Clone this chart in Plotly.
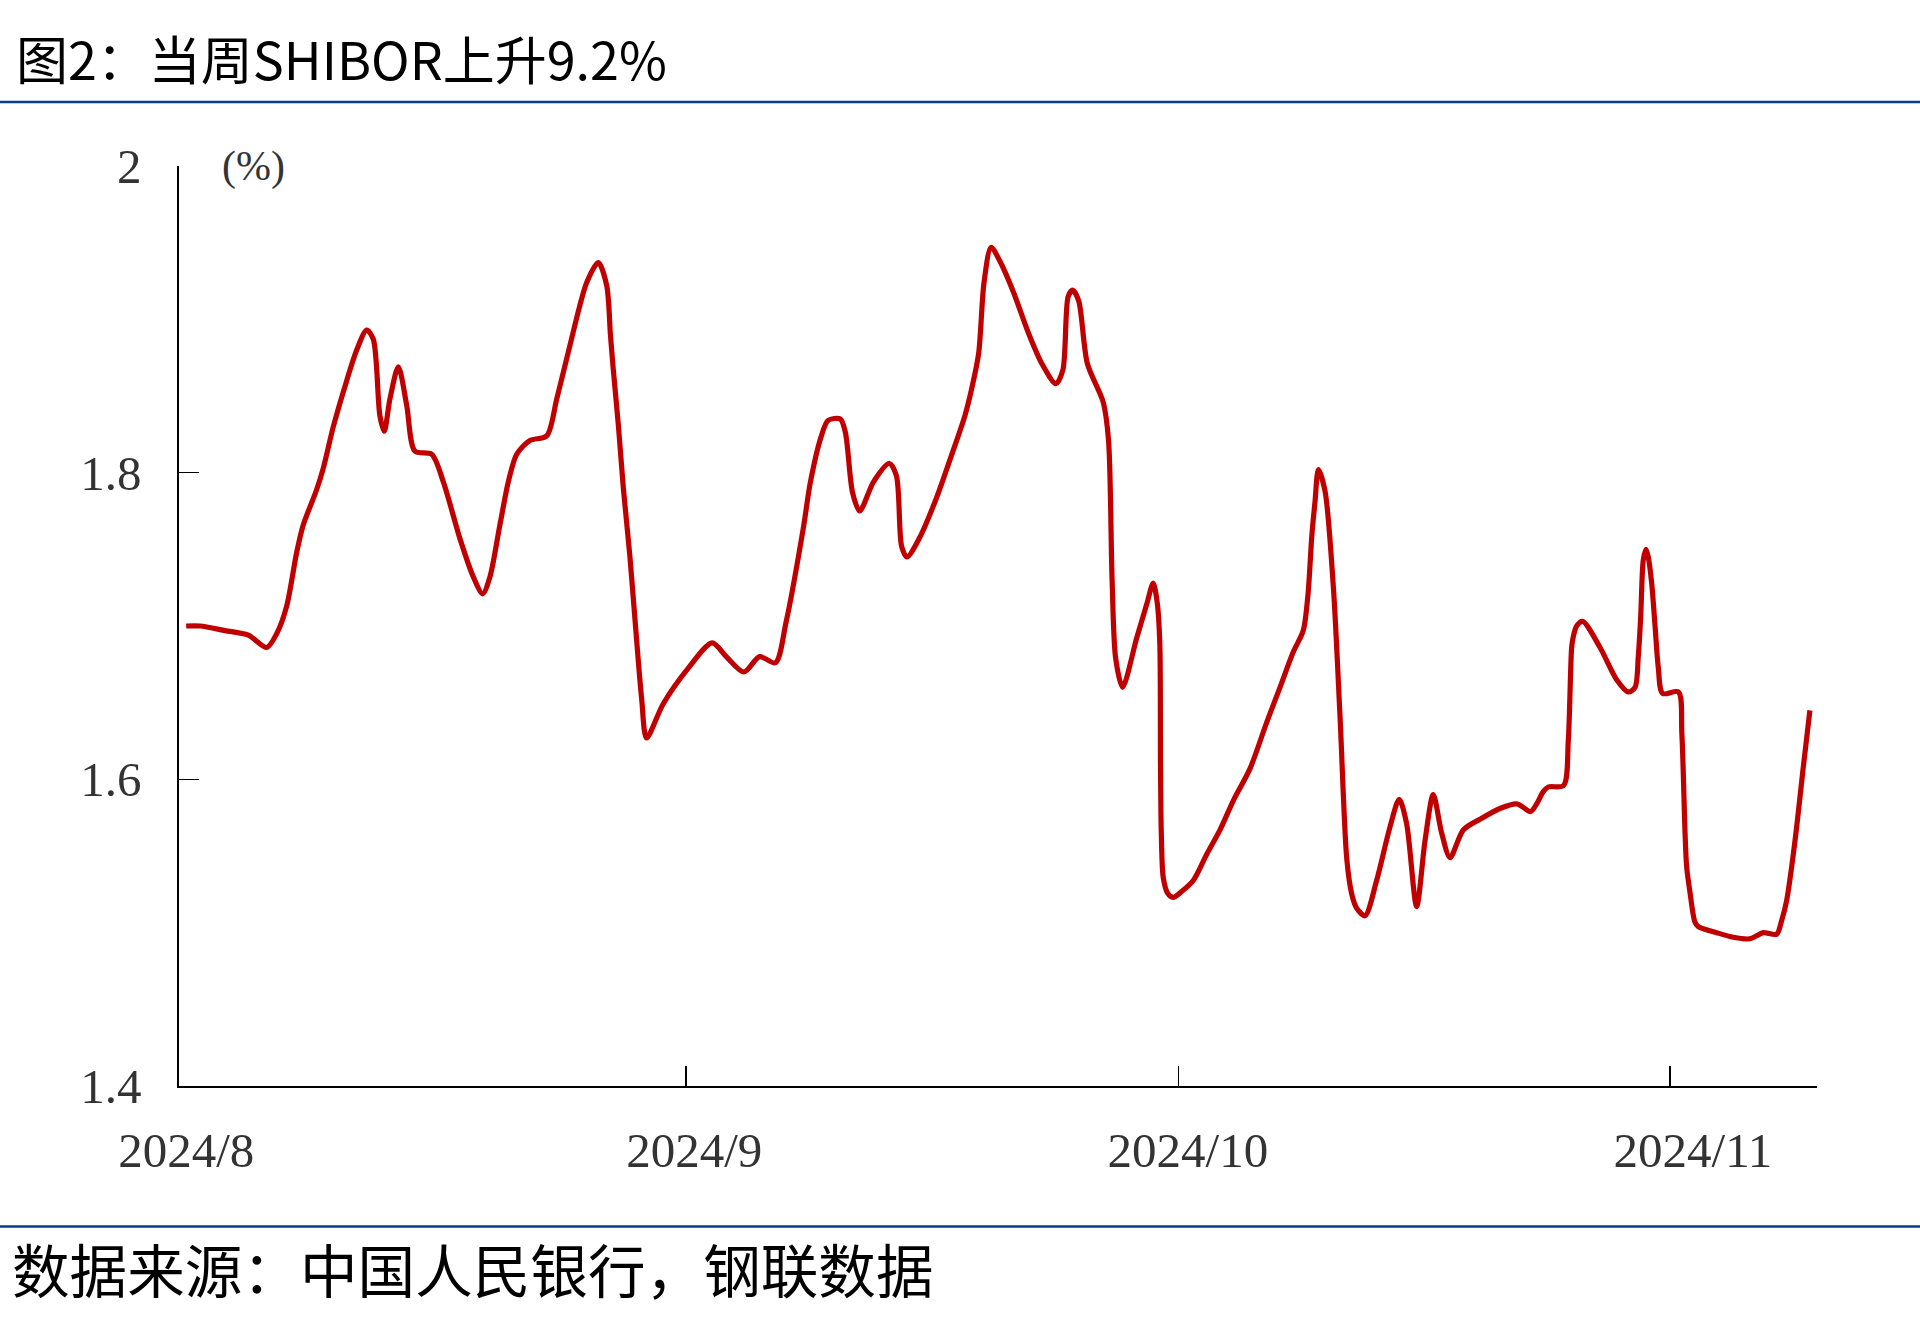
import pandas as pd
import plotly.graph_objects as go

# ---------------- data ----------------
title_text = "图2：当周SHIBOR上升9.2%"
source_text = "数据来源：中国人民银行，钢联数据"
unit_text = "(%)"

base_date = "2024-08-01"
# observation times, in days after 2024-08-01
day_offset = [
    0.00, 0.86, 2.41, 3.85, 4.99, 5.61, 6.23, 6.85, 7.26, 8.09, 8.50, 9.12, 9.95,
    10.57, 11.19, 11.60, 12.01, 12.28, 12.63, 13.15, 13.67, 14.18, 15.22, 15.94,
    16.97, 17.80, 18.38, 18.83, 19.45, 19.97, 20.49, 21.31, 22.35, 22.97, 23.79,
    24.83, 25.55, 26.07, 26.30, 26.48, 26.80, 27.10, 27.51, 27.93, 28.24, 28.54,
    29.56, 31.09, 32.61, 33.48, 34.57, 35.55, 36.53, 37.18, 38.26, 38.70, 39.35,
    39.79, 40.55, 40.87, 41.31, 41.75, 42.61, 43.59, 44.03, 44.35, 44.68, 45.44,
    46.53, 47.40, 48.27, 48.70, 49.13, 49.46, 49.90, 50.44, 51.31, 52.18, 53.05,
    53.92, 54.35, 54.68, 54.96, 55.33, 55.87, 56.85, 57.18, 57.40, 57.62, 58.05,
    58.92, 59.54, 59.95, 60.20, 60.36, 60.40, 60.45, 60.57, 60.83, 61.18, 61.73,
    62.43, 63.26, 64.09, 64.91, 65.95, 66.98, 67.81, 68.63, 69.25, 69.54, 69.79,
    69.98, 70.19, 70.60, 71.12, 71.53, 71.95, 72.26, 72.56, 73.08, 73.80, 74.63,
    75.20, 75.66, 76.28, 76.80, 77.31, 77.83, 78.35, 79.17, 80.21, 81.45, 82.49,
    83.35, 83.72, 84.13, 84.44, 85.39, 85.68, 85.89, 85.99, 86.20, 86.57, 87.65,
    88.68, 89.40, 89.82, 90.02, 90.17, 90.33, 90.50, 90.64, 90.85, 91.06, 91.26,
    91.53, 92.51, 92.72, 92.92, 93.02, 93.23, 93.53, 93.74, 94.88, 95.91, 96.94,
    97.36, 97.77, 98.60, 98.91, 99.22, 99.53, 99.84, 100.25, 100.66,
]
shibor = [
    1.700, 1.700, 1.697, 1.694, 1.686, 1.695, 1.713, 1.748, 1.766, 1.789, 1.803, 1.830, 1.860,
    1.880, 1.893, 1.887, 1.837, 1.827, 1.848, 1.869, 1.844, 1.814, 1.812, 1.794,
    1.757, 1.732, 1.721, 1.732, 1.766, 1.794, 1.812, 1.821, 1.824, 1.848, 1.883,
    1.924, 1.937, 1.922, 1.890, 1.867, 1.830, 1.790, 1.745, 1.690, 1.652, 1.627,
    1.649, 1.672, 1.689, 1.680, 1.670, 1.680, 1.676, 1.702, 1.764, 1.794, 1.823,
    1.834, 1.835, 1.826, 1.787, 1.775, 1.794, 1.806, 1.798, 1.752, 1.745, 1.757,
    1.784, 1.810, 1.837, 1.855, 1.878, 1.924, 1.947, 1.938, 1.917, 1.892, 1.871,
    1.858, 1.867, 1.915, 1.919, 1.912, 1.871, 1.846, 1.821, 1.730, 1.679, 1.660,
    1.692, 1.714, 1.728, 1.715, 1.688, 1.610, 1.565, 1.536, 1.526, 1.523, 1.527,
    1.534, 1.551, 1.567, 1.586, 1.607, 1.637, 1.660, 1.683, 1.697, 1.720, 1.760,
    1.781, 1.802, 1.788, 1.725, 1.641, 1.548, 1.525, 1.516, 1.511, 1.534, 1.569,
    1.587, 1.571, 1.517, 1.560, 1.590, 1.565, 1.549, 1.567, 1.574, 1.581, 1.584,
    1.579, 1.584, 1.592, 1.595, 1.596, 1.625, 1.686, 1.693, 1.700, 1.703, 1.686,
    1.665, 1.657, 1.660, 1.680, 1.706, 1.743, 1.750, 1.745, 1.728, 1.700, 1.673,
    1.656, 1.657, 1.630, 1.565, 1.543, 1.526, 1.507, 1.504, 1.500, 1.497, 1.496,
    1.498, 1.500, 1.499, 1.508, 1.521, 1.543, 1.569, 1.608, 1.645,
]

x_labels = ["2024/8", "2024/9", "2024/10", "2024/11"]
x_label_offset = [0.0, 31.50, 62.10, 93.41]   # where the month labels sit (days)
x_tick_offset = [31.00, 61.53, 92.00]          # month tick marks (days)
x_range_offset = [-0.446, 101.10]
y_ticks = [1.4, 1.6, 1.8, 2.0]
y_labels = ["1.4", "1.6", "1.8", "2"]
y_range = [1.4, 2.0]

# ---------------- build ----------------
base = pd.Timestamp(base_date)
to_dt = lambda offs: [base + pd.to_timedelta(o, unit="D") for o in offs]
dates = to_dt(day_offset)
tick_dates = to_dt(x_tick_offset)
label_dates = to_dt(x_label_offset)
x_range = to_dt(x_range_offset)

W, H = 1920, 1331
ML, MR, MT, MB = 179, 103, 166, 245
PW, PH = W - ML - MR, H - MT - MB


def px_x(px):
    return (px - ML) / PW


def px_y(py):
    return (H - MB - py) / PH


SERIF = "Liberation Serif, Times New Roman, serif"
CJK = "Noto Sans CJK SC, sans-serif"
TXT = "#333333"
BLUE = "#0B3A8A"

fig = go.Figure()
fig.add_trace(go.Scatter(
    x=dates, y=shibor, mode="lines",
    line=dict(color="#C00000", width=5.2, shape="spline", smoothing=0.8),
    hoverinfo="skip", showlegend=False,
))
# invisible copy so the label axis is drawn
fig.add_trace(go.Scatter(
    x=dates, y=shibor, mode="lines", xaxis="x2",
    line=dict(color="rgba(0,0,0,0)", width=0), opacity=0,
    hoverinfo="skip", showlegend=False,
))

fig.update_layout(
    width=W, height=H, autosize=False,
    margin=dict(l=ML, r=MR, t=MT, b=MB, pad=0),
    paper_bgcolor="white", plot_bgcolor="white",
    xaxis=dict(
        type="date", range=x_range, tickvals=tick_dates, showticklabels=False,
        ticks="inside", ticklen=20, tickwidth=1.5, tickcolor="black",
        showline=True, linecolor="black", linewidth=1.6,
        showgrid=False, zeroline=False, fixedrange=True,
    ),
    xaxis2=dict(
        type="date", range=x_range, overlaying="x", anchor="y", side="bottom",
        tickvals=label_dates, ticktext=x_labels, ticks="",
        showline=False, showgrid=False, zeroline=False,
        tickfont=dict(family=SERIF, size=49, color=TXT),
        ticklabelstandoff=31, fixedrange=True,
    ),
    yaxis=dict(
        range=y_range, tickvals=y_ticks, ticktext=y_labels,
        ticks="inside", ticklen=20, tickwidth=1.5, tickcolor="black",
        showline=True, linecolor="black", linewidth=1.6,
        showgrid=False, zeroline=False,
        tickfont=dict(family=SERIF, size=49, color=TXT),
        ticklabelstandoff=26, fixedrange=True,
    ),
    annotations=[
        dict(text=title_text, xref="paper", yref="paper", x=px_x(14), y=px_y(57),
             xanchor="left", yanchor="middle", showarrow=False,
             font=dict(family=CJK, size=52, color="black")),
        dict(text=source_text, xref="paper", yref="paper", x=px_x(10), y=px_y(1268),
             xanchor="left", yanchor="middle", showarrow=False,
             font=dict(family=CJK, size=57.6, color="black")),
        dict(text=unit_text, xref="paper", yref="paper", x=px_x(253), y=px_y(166),
             xanchor="center", yanchor="middle", showarrow=False,
             font=dict(family=SERIF, size=42, color=TXT)),
    ],
    shapes=[
        dict(type="line", xref="paper", yref="paper", x0=px_x(0), x1=px_x(W),
             y0=px_y(102), y1=px_y(102), line=dict(color=BLUE, width=2.6)),
        dict(type="line", xref="paper", yref="paper", x0=px_x(0), x1=px_x(W),
             y0=px_y(1226.5), y1=px_y(1226.5), line=dict(color=BLUE, width=2.6)),
    ],
)

fig.write_html(
    "out.html",
    config={"displayModeBar": False, "staticPlot": True},
    post_script="document.body.style.margin='0';document.body.style.overflow='hidden';",
)
